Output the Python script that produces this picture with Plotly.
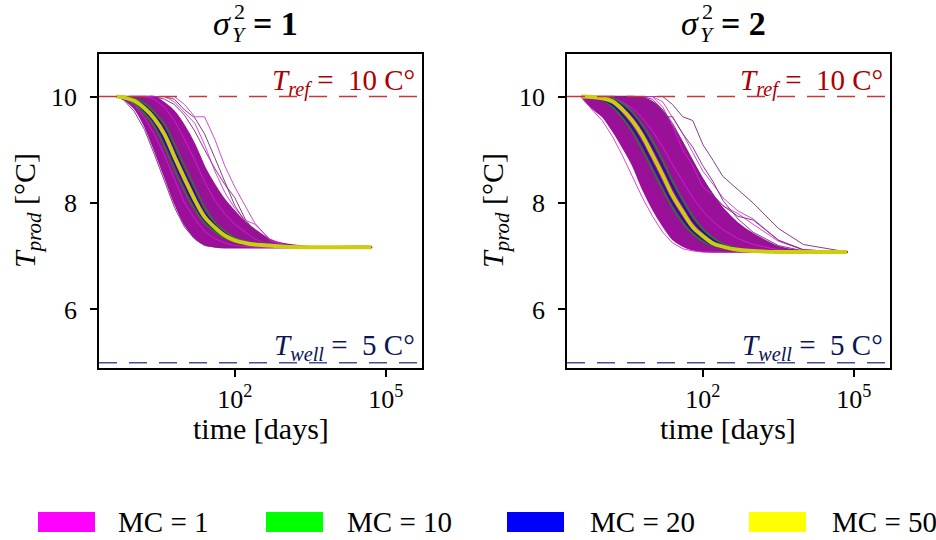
import plotly.graph_objects as go

# ---------------- data ----------------
panel_titles = ["1", "2"]
legend_labels = ["MC = 1", "MC = 10", "MC = 20", "MC = 50"]
legend_colors = ["#ff00ff", "#00ff00", "#0000ff", "#ffff00"]
T_ref = 10
T_well = 5
x_tick_vals = [100, 100000]
x_tick_text = ["10<sup>2</sup>", "10<sup>5</sup>"]
y_tick_vals = [6, 8, 10]

# sigma_Y^2 = 1
days_s1 = [0.45, 0.63, 1.0, 1.6, 2.5, 4.0, 6.3, 10, 16, 25, 40, 63, 100, 160, 250, 500, 1000, 3200, 10000, 52000]
band_low_s1 = [10.0, 9.95, 9.78, 9.45, 9.0, 8.5, 8.0, 7.6, 7.35, 7.22, 7.18, 7.16, 7.16, 7.16, 7.16, 7.16, 7.16, 7.16, 7.16, 7.16]
band_up_s1 = [10.0, 10.0, 10.0, 10.0, 10.0, 9.88, 9.72, 9.45, 9.1, 8.68, 8.34, 8.06, 7.84, 7.64, 7.5, 7.31, 7.23, 7.18, 7.18, 7.18]
mc1_s1 = [
    [10, 10, 10, 10, 10, 9.95, 9.85, 9.65, 9.35, 9.0, 8.65, 8.35, 8.1, 7.7, 7.45, 7.22, 7.18, 7.17, 7.17, 7.17],
    [10, 10, 10, 10, 10, 10, 9.9, 9.7, 9.5, 9.1, 8.6, 8.2, 7.9, 7.68, 7.6, 7.32, 7.2, 7.17, 7.17, 7.17],
    [10, 10, 10, 10, 10, 10, 9.95, 9.75, 9.6, 9.3, 8.85, 8.4, 7.95, 7.65, 7.42, 7.25, 7.18, 7.17, 7.17, 7.17],
    [10, 10, 10, 10, 9.95, 9.8, 9.55, 9.2, 8.8, 8.4, 8.05, 7.8, 7.6, 7.45, 7.32, 7.22, 7.18, 7.17, 7.17, 7.17],
    [10, 9.93, 9.72, 9.38, 8.92, 8.4, 7.92, 7.55, 7.32, 7.2, 7.17, 7.17, 7.17, 7.17, 7.17, 7.17, 7.17, 7.17, 7.17, 7.17],
    [10, 9.97, 9.85, 9.6, 9.3, 8.9, 8.45, 8.0, 7.7, 7.47, 7.33, 7.25, 7.2, 7.18, 7.17, 7.17, 7.17, 7.17, 7.17, 7.17],
    [10, 10, 9.98, 9.92, 9.8, 9.6, 9.3, 8.95, 8.6, 8.22, 7.9, 7.66, 7.5, 7.38, 7.3, 7.23, 7.19, 7.17, 7.17, 7.17],
    [10, 10, 10, 10, 10, 10, 10, 9.85, 9.62, 9.62, 9.2, 8.7, 8.3, 7.95, 7.62, 7.3, 7.2, 7.17, 7.17, 7.17],
]
mc10_s1 = [
    [10.0, 9.96, 9.87, 9.68, 9.44, 9.05, 8.62, 8.22, 7.87, 7.62, 7.46, 7.34, 7.27, 7.23, 7.21, 7.19, 7.18, 7.17, 7.17, 7.17],
    [10.0, 10.0, 9.96, 9.87, 9.71, 9.48, 9.11, 8.70, 8.30, 7.93, 7.64, 7.47, 7.35, 7.28, 7.24, 7.21, 7.18, 7.17, 7.17, 7.17],
]
mc20_s1 = [
    [10.0, 9.97, 9.90, 9.73, 9.52, 9.17, 8.75, 8.34, 7.96, 7.68, 7.50, 7.36, 7.29, 7.24, 7.21, 7.19, 7.18, 7.17, 7.17, 7.17],
    [10.0, 9.99, 9.94, 9.83, 9.65, 9.39, 8.99, 8.58, 8.18, 7.82, 7.59, 7.43, 7.32, 7.26, 7.23, 7.20, 7.18, 7.17, 7.17, 7.17],
]
mc50_s1 = [
    [10.0, 9.98, 9.92, 9.78, 9.59, 9.29, 8.87, 8.46, 8.06, 7.74, 7.54, 7.39, 7.30, 7.25, 7.22, 7.20, 7.18, 7.17, 7.17, 7.17],
]

# sigma_Y^2 = 2
days_s2 = [0.39, 0.63, 1.0, 1.6, 2.5, 4.0, 6.3, 10, 16, 25, 40, 63, 100, 160, 250, 500, 1000, 3200, 10000, 74000]
band_low_s2 = [10.0, 9.78, 9.63, 9.36, 9.06, 8.71, 8.27, 7.89, 7.57, 7.32, 7.19, 7.12, 7.09, 7.08, 7.08, 7.08, 7.08, 7.08, 7.08, 7.08]
band_up_s2 = [10.0, 10.0, 10.0, 10.0, 10.0, 10.0, 9.98, 9.9, 9.72, 9.45, 9.12, 8.78, 8.45, 8.15, 7.9, 7.62, 7.42, 7.18, 7.1, 7.09]
mc1_s2 = [
    [10, 10, 10, 10, 10, 10, 10, 10, 10, 9.85, 9.62, 9.55, 9.1, 8.8, 8.5, 8.25, 8.0, 7.52, 7.22, 7.08],
    [10, 10, 10, 10, 10, 10, 10, 10, 9.9, 9.6, 9.3, 8.95, 8.6, 8.35, 8.1, 7.85, 7.7, 7.3, 7.12, 7.08],
    [10, 10, 10, 10, 10, 10, 10, 9.9, 9.62, 9.62, 9.3, 9.05, 8.7, 8.4, 8.05, 7.7, 7.45, 7.2, 7.1, 7.08],
    [10, 10, 10, 10, 10, 10, 10, 10, 9.8, 9.45, 9.0, 8.7, 8.3, 8.15, 7.95, 7.8, 7.6, 7.28, 7.12, 7.08],
    [10, 10, 10, 10, 10, 10, 9.9, 9.7, 9.4, 9.1, 8.75, 8.45, 8.2, 7.95, 7.75, 7.5, 7.32, 7.15, 7.09, 7.08],
    [10, 9.75, 9.55, 9.25, 8.9, 8.5, 8.1, 7.75, 7.45, 7.25, 7.14, 7.1, 7.08, 7.08, 7.08, 7.08, 7.08, 7.08, 7.08, 7.08],
    [10, 9.9, 9.8, 9.62, 9.4, 9.12, 8.77, 8.4, 8.02, 7.7, 7.45, 7.28, 7.18, 7.13, 7.1, 7.09, 7.08, 7.08, 7.08, 7.08],
    [10, 10, 10, 9.97, 9.9, 9.78, 9.6, 9.35, 9.05, 8.72, 8.4, 8.1, 7.85, 7.65, 7.5, 7.33, 7.22, 7.12, 7.09, 7.08],
    [10, 10, 10, 10, 10, 10, 10, 9.95, 9.75, 9.5, 9.15, 8.8, 8.45, 8.15, 7.95, 7.75, 7.68, 7.3, 7.12, 7.08],
]
mc10_s2 = [
    [10.0, 9.97, 9.93, 9.80, 9.60, 9.33, 8.99, 8.62, 8.24, 7.91, 7.62, 7.42, 7.28, 7.20, 7.15, 7.11, 7.09, 7.08, 7.08, 7.08],
    [10.0, 10.0, 9.99, 9.96, 9.87, 9.71, 9.47, 9.17, 8.80, 8.42, 8.06, 7.76, 7.51, 7.35, 7.23, 7.15, 7.11, 7.09, 7.08, 7.08],
]
mc20_s2 = [
    [10.0, 9.98, 9.94, 9.84, 9.66, 9.41, 9.10, 8.73, 8.35, 8.00, 7.70, 7.47, 7.32, 7.21, 7.16, 7.11, 7.09, 7.08, 7.08, 7.08],
    [10.0, 10.0, 9.98, 9.94, 9.83, 9.64, 9.39, 9.06, 8.69, 8.31, 7.97, 7.67, 7.46, 7.30, 7.21, 7.14, 7.11, 7.09, 7.08, 7.08],
]
mc50_s2 = [
    [10.0, 9.99, 9.97, 9.91, 9.76, 9.54, 9.26, 8.90, 8.52, 8.14, 7.83, 7.55, 7.38, 7.24, 7.18, 7.12, 7.10, 7.08, 7.08, 7.08],
]

# ---------------- styles ----------------
FONT = "Liberation Serif"
BAND_COLOR = "rgb(155,15,155)"
MC1_LINE_COLORS = ["rgba(120,40,120,0.9)", "rgba(205,40,205,0.85)"]
MC10_COLOR = "rgb(40,125,40)"
MC20_COLOR = "rgb(25,25,150)"
MC50_COLOR = "rgb(205,205,15)"
REF_LINE = "rgb(200,55,55)"
REF_TEXT = "rgb(170,0,0)"
WELL_LINE = "rgb(70,80,150)"
WELL_TEXT = "rgb(10,22,85)"

W, H = 936, 540
panels = [
    dict(days=days_s1, low=band_low_s1, up=band_up_s1, mc1=mc1_s1, mc10=mc10_s1, mc20=mc20_s1, mc50=mc50_s1,
         xd=[99 / W, 422 / W], xa="x", ya="y"),
    dict(days=days_s2, low=band_low_s2, up=band_up_s2, mc1=mc1_s2, mc10=mc10_s2, mc20=mc20_s2, mc50=mc50_s2,
         xd=[567 / W, 890 / W], xa="x2", ya="y2"),
]
ydom = [1 - 368 / H, 1 - 54 / H]

fig = go.Figure()
for p in panels:
    kw = dict(xaxis=p["xa"], yaxis=p["ya"], hoverinfo="skip", showlegend=False)
    # dense band of MC = 1 realisations
    fig.add_trace(go.Scatter(x=p["days"] + p["days"][::-1], y=p["low"] + p["up"][::-1],
                             fill="toself", fillcolor=BAND_COLOR, mode="lines",
                             line=dict(color=BAND_COLOR, width=1.5, shape="spline", smoothing=0.6), **kw))
    for i, ys in enumerate(p["mc1"]):
        fig.add_trace(go.Scatter(x=p["days"], y=ys, mode="lines",
                                 line=dict(color=MC1_LINE_COLORS[i % 2], width=1), **kw))
    for ys in p["mc10"]:
        fig.add_trace(go.Scatter(x=p["days"], y=ys, mode="lines",
                                 line=dict(color=MC10_COLOR, width=1.6, shape="spline"), **kw))
    for ys in p["mc20"]:
        fig.add_trace(go.Scatter(x=p["days"], y=ys, mode="lines",
                                 line=dict(color=MC20_COLOR, width=1.8, shape="spline"), **kw))
    for ys in p["mc50"]:
        fig.add_trace(go.Scatter(x=p["days"], y=ys, mode="lines",
                                 line=dict(color=MC50_COLOR, width=4, shape="spline"), **kw))

axis_common = dict(showline=True, mirror=True, linecolor="black", linewidth=1.5,
                   ticks="outside", ticklen=7, tickwidth=1.5, tickcolor="black",
                   showgrid=False, zeroline=False,
                   tickfont=dict(family=FONT, size=26, color="black"))
layout = dict(width=W, height=H, margin=dict(l=0, r=0, t=0, b=0),
              plot_bgcolor="white", paper_bgcolor="white", showlegend=False,
              font=dict(family=FONT, color="black"))
for i, p in enumerate(panels):
    sx = "" if i == 0 else "2"
    layout["xaxis" + sx] = dict(axis_common, type="log", domain=p["xd"], range=[-0.70, 5.72],
                                tickvals=x_tick_vals, ticktext=x_tick_text, anchor="y" + sx)
    layout["yaxis" + sx] = dict(axis_common, domain=ydom, range=[4.90, 10.80],
                                tickvals=y_tick_vals, anchor="x" + sx, ticklabelstandoff=8)
fig.update_layout(**layout)

shapes = []
annotations = []
for i, p in enumerate(panels):
    xa, ya = p["xa"], p["ya"]
    x0, x1 = p["xd"]
    cx = (x0 + x1) / 2
    shapes.append(dict(type="line", xref=xa + " domain", yref=ya, x0=0, x1=1, y0=T_ref, y1=T_ref,
                       line=dict(color=REF_LINE, width=1.5, dash="18px,12px"), layer="above"))
    shapes.append(dict(type="line", xref=xa + " domain", yref=ya, x0=0, x1=1, y0=T_well, y1=T_well,
                       line=dict(color=WELL_LINE, width=1.5, dash="18px,12px"), layer="above"))
    annotations.append(dict(xref=xa + " domain", yref=ya, x=0.985, y=T_ref, xanchor="right", yanchor="bottom",
                            yshift=-6, showarrow=False,
                            text=f"<i>T</i><sub><i>ref</i></sub> =  {T_ref} C°",
                            font=dict(family=FONT, size=29, color=REF_TEXT)))
    annotations.append(dict(xref=xa + " domain", yref=ya, x=0.985, y=T_well, xanchor="right", yanchor="bottom",
                            yshift=-4, showarrow=False,
                            text=f"<i>T</i><sub><i>well</i></sub> =  {T_well} C°",
                            font=dict(family=FONT, size=29, color=WELL_TEXT)))
    # axis titles
    annotations.append(dict(xref="paper", yref="paper", x=cx, y=1 - 428 / H, showarrow=False,
                            xanchor="center", yanchor="middle", text="time [days]",
                            font=dict(family=FONT, size=30)))
    annotations.append(dict(xref="paper", yref="paper", x=(27 + (i * 468)) / W, y=1 - 211 / H, showarrow=False,
                            xanchor="center", yanchor="middle", textangle=-90,
                            text="<i>T</i><sub><i>prod</i></sub> [°C]",
                            font=dict(family=FONT, size=30)))
    # panel title sigma_Y^2 = value (stacked super/subscript)
    off = i * 468 / W
    annotations.append(dict(xref="paper", yref="paper", x=233 / W + off, y=1 - 24 / H, showarrow=False,
                            xanchor="right", yanchor="middle", text="<i>σ</i>",
                            font=dict(family=FONT, size=34)))
    annotations.append(dict(xref="paper", yref="paper", x=232 / W + off, y=1 - 11 / H, showarrow=False,
                            xanchor="left", yanchor="middle", text="2",
                            font=dict(family=FONT, size=22)))
    annotations.append(dict(xref="paper", yref="paper", x=230 / W + off, y=1 - 35 / H, showarrow=False,
                            xanchor="left", yanchor="middle", text="<i>Y</i>",
                            font=dict(family=FONT, size=22)))
    annotations.append(dict(xref="paper", yref="paper", x=251 / W + off, y=1 - 24 / H, showarrow=False,
                            xanchor="left", yanchor="middle", text=f"<b>= {panel_titles[i]}</b>",
                            font=dict(family=FONT, size=34)))

# legend at the bottom (patches + labels)
patch_x = [38, 266, 507, 749]
text_x = [116, 345, 588, 830]
for k in range(4):
    shapes.append(dict(type="rect", xref="paper", yref="paper",
                       x0=patch_x[k] / W, x1=(patch_x[k] + 57) / W, y0=1 - 532 / H, y1=1 - 512 / H,
                       fillcolor=legend_colors[k], line=dict(width=0)))
    annotations.append(dict(xref="paper", yref="paper", x=text_x[k] / W, y=1 - 522 / H, showarrow=False,
                            xanchor="left", yanchor="middle", text=legend_labels[k],
                            font=dict(family=FONT, size=29)))

fig.update_layout(shapes=shapes, annotations=annotations)
fig.write_html("out.html")
